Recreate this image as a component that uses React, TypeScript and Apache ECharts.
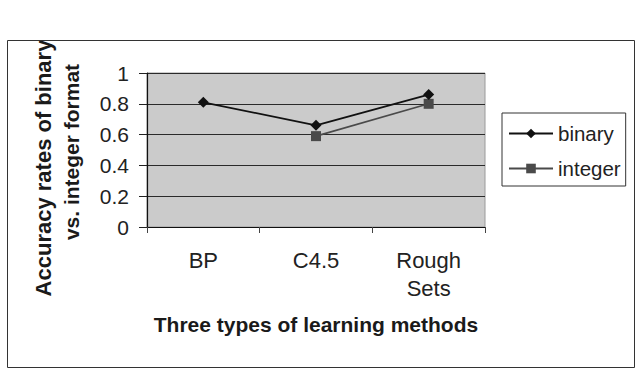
import React, { useEffect, useRef } from "react";
import * as echarts from "echarts";

const categories = ["BP", "C4.5", "Rough\nSets"];
const binaryValues = [0.81, 0.66, 0.86];
const integerValues: (number | string)[] = ["-", 0.59, 0.8];
const yTicks = [0, 0.2, 0.4, 0.6, 0.8, 1];

const FONT = "Liberation Sans, Arial, sans-serif";

export default function App() {
  const ref = useRef<HTMLDivElement>(null);
  useEffect(() => {
    if (!ref.current) return;
    const chart = echarts.init(ref.current, null, { renderer: "svg" });
    chart.setOption({
      animation: false,
      backgroundColor: "#ffffff",
      textStyle: { fontFamily: FONT },
      grid: {
        left: 147,
        top: 73,
        width: 338,
        height: 154,
        show: true,
        backgroundColor: "#cbcbcb",
        borderColor: "#9a9a9a",
        borderWidth: 1,
      },
      xAxis: {
        type: "category",
        data: categories,
        boundaryGap: true,
        axisLine: { show: true, lineStyle: { color: "#111", width: 1.2 } },
        axisTick: { show: true, length: 6, inside: false, lineStyle: { color: "#444" } },
        axisLabel: {
          margin: 19,
          fontSize: 22,
          color: "#222",
          lineHeight: 28,
          fontFamily: FONT,
        },
        name: "Three types of learning methods",
        nameLocation: "middle",
        nameGap: 87,
        nameTextStyle: { fontSize: 21, fontWeight: "bold", color: "#1a1a1a", fontFamily: FONT },
      },
      yAxis: {
        type: "value",
        min: 0,
        max: 1,
        interval: 0.2,
        axisLine: { show: true, lineStyle: { color: "#111", width: 1.2 } },
        axisTick: { show: true, length: 8, lineStyle: { color: "#222" } },
        splitLine: { show: true, lineStyle: { color: "#2a2a2a", width: 1 } },
        axisLabel: {
          margin: 18,
          fontSize: 21,
          color: "#222",
          fontFamily: FONT,
          formatter: (v: number) => {
            const r = Math.round(v * 10) / 10;
            return yTicks.includes(r) ? String(r) : "";
          },
        },
      },
      legend: {
        orient: "vertical",
        left: 502,
        top: 113,
        padding: [10, 5, 7, 6],
        itemGap: 14,
        itemWidth: 44,
        itemHeight: 12,
        borderColor: "#333",
        borderWidth: 1,
        backgroundColor: "#fff",
        textStyle: { fontSize: 20.5, color: "#222", fontFamily: FONT },
        data: ["binary", "integer"],
      },
      series: [
        {
          name: "integer",
          type: "line",
          data: integerValues,
          symbol: "rect",
          symbolSize: 10,
          lineStyle: { color: "#4a4a4a", width: 1.6 },
          itemStyle: { color: "#4a4a4a" },
          z: 2,
        },
        {
          name: "binary",
          type: "line",
          data: binaryValues,
          symbol: "diamond",
          symbolSize: 11,
          lineStyle: { color: "#111", width: 1.8 },
          itemStyle: { color: "#111" },
          z: 3,
        },
      ],
      graphic: [
        {
          type: "text",
          x: 43,
          y: 168,
          rotation: Math.PI / 2,
          style: {
            text: "Accuracy rates of binary",
            font: `bold 22px ${FONT}`,
            fill: "#1a1a1a",
            align: "center",
            verticalAlign: "middle",
          },
          z: 1,
        },
        {
          type: "text",
          x: 71,
          y: 152,
          rotation: Math.PI / 2,
          style: {
            text: "vs. integer format",
            font: `bold 21px ${FONT}`,
            fill: "#1a1a1a",
            align: "center",
            verticalAlign: "middle",
          },
          z: 1,
        },
        {
          type: "rect",
          shape: { x: 0, y: 0, width: 638, height: 40 },
          style: { fill: "#ffffff" },
          z: 50,
        },
        {
          type: "rect",
          shape: { x: 7.5, y: 40.5, width: 627, height: 327 },
          style: { fill: "none", stroke: "#333", lineWidth: 1 },
          z: 51,
        },
      ],
    });
    return () => chart.dispose();
  }, []);
  return (
    <div
      ref={ref}
      style={{ position: "fixed", left: 0, top: 0, width: 638, height: 378 }}
    />
  );
}
